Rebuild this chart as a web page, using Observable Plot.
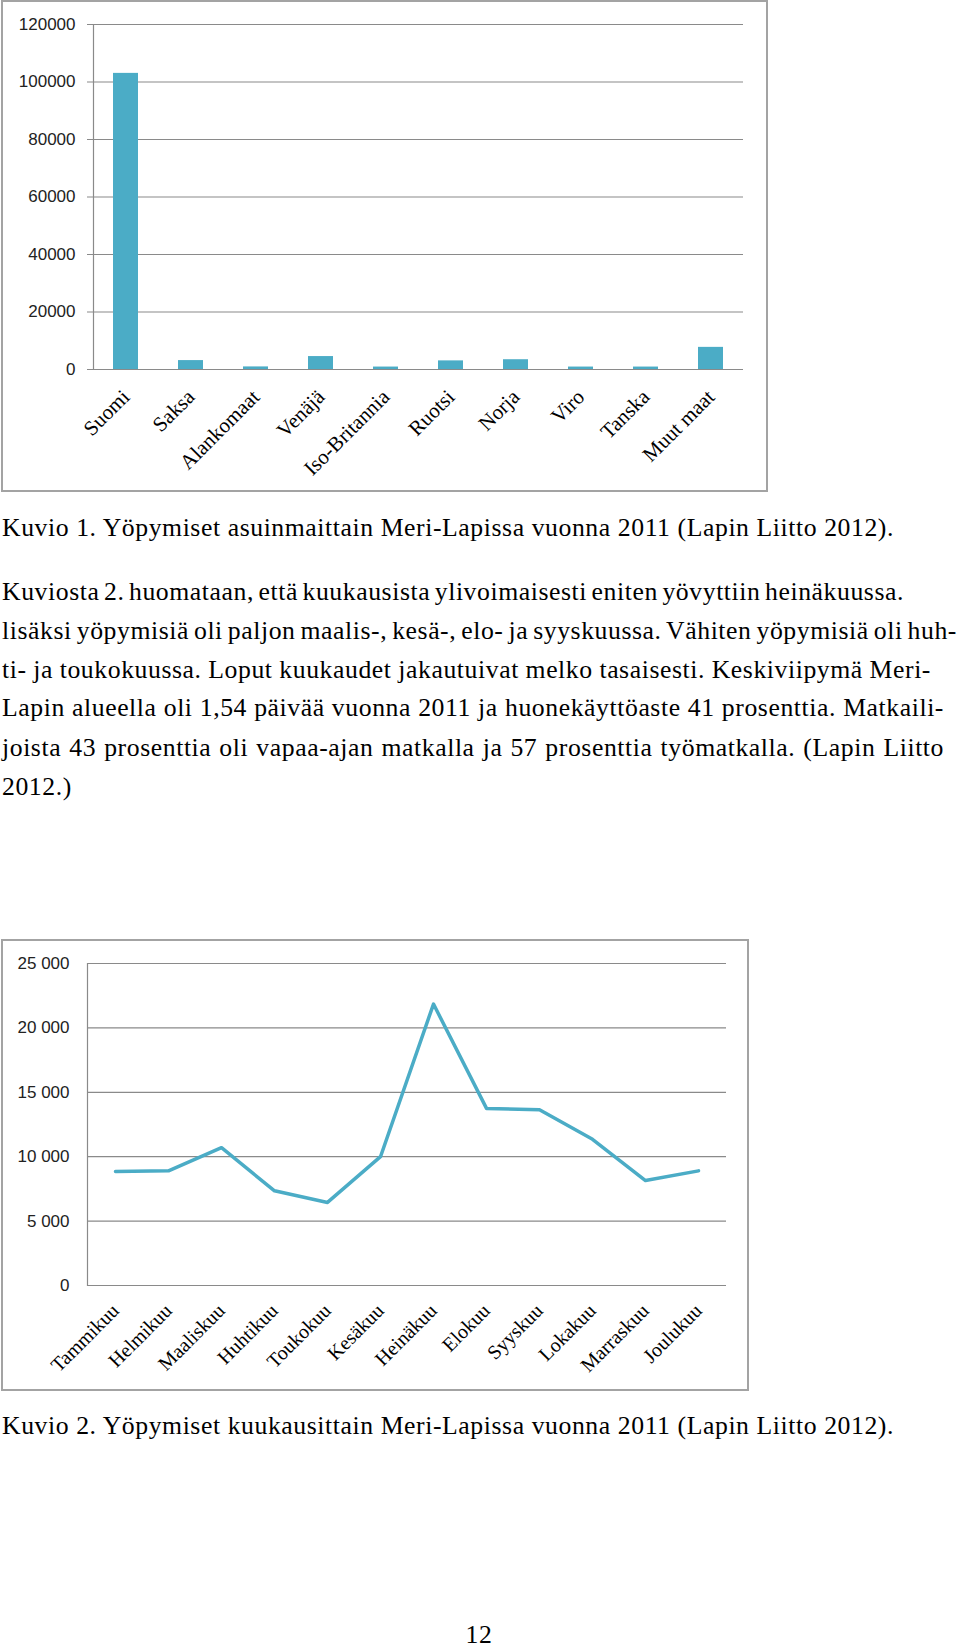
<!DOCTYPE html>
<html>
<head>
<meta charset="utf-8">
<script src="https://cdn.jsdelivr.net/npm/d3@7"></script>
<script src="https://cdn.jsdelivr.net/npm/@observablehq/plot@0.6"></script>
<style>
  html, body { margin: 0; padding: 0; background: #fff; }
  body { position: relative; width: 960px; height: 1648px; overflow: hidden; }
  .frame { position: absolute; border: 2px solid #a3a3a3; background: #fff; }
  .frame svg { display: block; }
  .line { position: absolute; left: 2px; white-space: nowrap; font-family: "Liberation Serif", "Times New Roman", serif; color: #000; }
</style>
</head>
<body>
<div id="chart1" class="frame" style="left:1px; top:0px; width:763px; height:488px;"></div>
<div id="chart2" class="frame" style="left:1px; top:939px; width:744px; height:448px;"></div>
<div id="text"></div>
<script>
// ---- data: chart 1 (overnight stays by country of residence, 2011) ----
const countries = ["Suomi", "Saksa", "Alankomaat", "Venäjä", "Iso-Britannia", "Ruotsi", "Norja", "Viro", "Tanska", "Muut maat"];
const countryStays = [103000, 3100, 900, 4500, 850, 3000, 3400, 850, 850, 7700];
const yTicks1 = [0, 20000, 40000, 60000, 80000, 100000, 120000];

// ---- data: chart 2 (overnight stays by month, 2011) ----
const months = ["Tammikuu", "Helmikuu", "Maaliskuu", "Huhtikuu", "Toukokuu", "Kesäkuu", "Heinäkuu", "Elokuu", "Syyskuu", "Lokakuu", "Marraskuu", "Joulukuu"];
const monthStays = [8850, 8900, 10700, 7350, 6450, 10000, 21850, 13750, 13650, 11350, 8150, 8900];
const yTicks2 = [0, 5000, 10000, 15000, 20000, 25000];

// ---- texts ----
const caption1 = "Kuvio 1. Yöpymiset asuinmaittain Meri-Lapissa vuonna 2011 (Lapin Liitto 2012).";
const caption2 = "Kuvio 2. Yöpymiset kuukausittain Meri-Lapissa vuonna 2011 (Lapin Liitto 2012).";
const paragraph = [
  "Kuviosta 2. huomataan, että kuukausista ylivoimaisesti eniten yövyttiin heinäkuussa.",
  "lisäksi yöpymisiä oli paljon maalis-, kesä-, elo- ja syyskuussa. Vähiten yöpymisiä oli huh-",
  "ti- ja toukokuussa. Loput kuukaudet jakautuivat melko tasaisesti. Keskiviipymä Meri-",
  "Lapin alueella oli 1,54 päivää vuonna 2011 ja huonekäyttöaste 41 prosenttia. Matkaili-",
  "joista 43 prosenttia oli vapaa-ajan matkalla ja 57 prosenttia työmatkalla. (Lapin Liitto",
  "2012.)"
];
const pageNumber = "12";

const blue = "#4bacc6";
const grid = "#8a8a8a";

// ---- chart 1 ----
const data1 = countries.map((c, i) => ({country: c, value: countryStays[i]}));
const chart1 = Plot.plot({
  width: 763, height: 488,
  marginLeft: 90, marginRight: 23, marginTop: 22, marginBottom: 121,
  style: {background: "#fff", overflow: "visible"},
  x: {domain: countries, paddingInner: 0.615, paddingOuter: 0.3075, label: null},
  y: {domain: [0, 120000], label: null},
  marks: [
    Plot.ruleY(yTicks1, {stroke: grid, strokeWidth: 1.2, insetLeft: -6}),
    Plot.frame({anchor: "left", stroke: grid, strokeWidth: 1.2}),
    Plot.barY(data1, {x: "country", y: "value", fill: blue}),
    Plot.axisY({ticks: yTicks1, tickSize: 0, tickPadding: 18, tickFormat: d => String(d),
      fontSize: 17, fontFamily: "Liberation Sans", fill: "#222", label: null}),
    Plot.axisX({tickRotate: -45, tickSize: 0, tickPadding: 24,
      fontSize: 21, fontFamily: "Liberation Serif", fill: "#000", label: null})
  ]
});
document.getElementById("chart1").appendChild(chart1);

// ---- chart 2 ----
const data2 = months.map((m, i) => ({month: m, value: monthStays[i]}));
const fmtSpace = v => d3.format(",")(v).replace(/,/g, " ");
const chart2 = Plot.plot({
  width: 744, height: 448,
  marginLeft: 84, marginRight: 21, marginTop: 22, marginBottom: 104,
  style: {background: "#fff", overflow: "visible"},
  x: {type: "point", domain: months, padding: 0.5, label: null},
  y: {domain: [0, 25000], label: null},
  marks: [
    Plot.ruleY(yTicks2, {stroke: grid, strokeWidth: 1.2}),
    Plot.frame({anchor: "left", stroke: grid, strokeWidth: 1.2}),
    Plot.line(data2, {x: "month", y: "value", stroke: blue, strokeWidth: 3.5}),
    Plot.axisY({ticks: yTicks2, tickSize: 0, tickPadding: 18, tickFormat: fmtSpace,
      fontSize: 17, fontFamily: "Liberation Sans", fill: "#222", label: null}),
    Plot.axisX({tickRotate: -45, tickSize: 0, tickPadding: 22,
      fontSize: 20, fontFamily: "Liberation Serif", fill: "#000", label: null})
  ]
});
document.getElementById("chart2").appendChild(chart2);

// ---- page text ----
const textLines = [
  {text: caption1, baseline: 537, target: 892},
  {text: paragraph[0], baseline: 601, target: 902},
  {text: paragraph[1], baseline: 640, target: 955},
  {text: paragraph[2], baseline: 679, target: 929},
  {text: paragraph[3], baseline: 717, target: 942},
  {text: paragraph[4], baseline: 757, target: 942},
  {text: paragraph[5], baseline: 796, target: null},
  {text: caption2, baseline: 1435, target: 892}
];
const holder = document.getElementById("text");
const els = textLines.map(l => {
  const d = document.createElement("div");
  d.className = "line";
  d.textContent = l.text;
  holder.appendChild(d);
  return d;
});
const pn = document.createElement("div");
pn.className = "line";
pn.textContent = pageNumber;
holder.appendChild(pn);
const all = els.concat([pn]);

// font size chosen so caption 1 nearly fills its width; remainder by letter spacing
all.forEach(e => { e.style.fontSize = "22px"; e.style.lineHeight = "22px"; });
const w0 = els[0].getBoundingClientRect().width;
const F = 22 * (textLines[0].target / w0) * 0.95;
all.forEach(e => { e.style.fontSize = F + "px"; e.style.lineHeight = F + "px"; });
const w1 = els[0].getBoundingClientRect().width;
const ls = (textLines[0].target - w1) / caption1.length;
all.forEach(e => e.style.letterSpacing = ls + "px");
const baseOff = 0.8375 * F;
textLines.forEach((l, i) => { els[i].style.top = (l.baseline - baseOff) + "px"; });
pn.style.left = "479px";
pn.style.transform = "translateX(-50%)";
pn.style.top = (1644 - baseOff) + "px";
textLines.forEach((l, i) => {
  if (!l.target) return;
  const w = els[i].getBoundingClientRect().width;
  const spaces = (l.text.match(/ /g) || []).length;
  if (spaces) els[i].style.wordSpacing = ((l.target - w) / spaces) + "px";
});
</script>
</body>
</html>
